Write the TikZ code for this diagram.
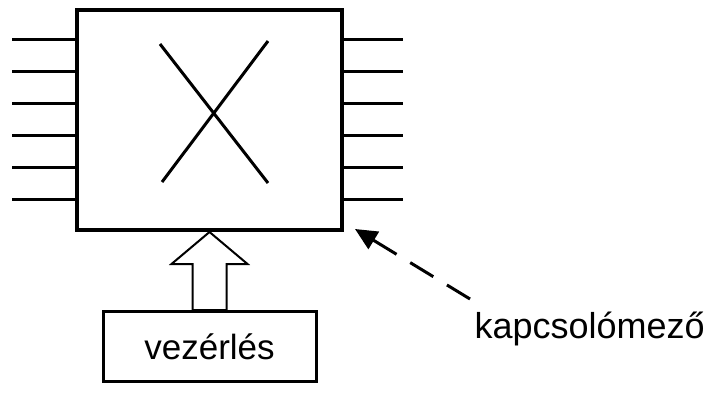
\documentclass[tikz,border=0pt]{standalone}
\usepackage{fontspec}
\setmainfont{Liberation Sans}
\usetikzlibrary{arrows.meta,positioning}

\begin{document}
\begin{tikzpicture}[x=1pt, y=-1pt, line width=3pt]
        \useasboundingbox (0,0) rectangle (707,392);

        \node[draw, line width=4pt, rectangle, minimum width=265pt, minimum height=220pt, inner sep=0pt](SW) at (209.5,120){};

        \coordinate (L1) at (12,39);
        \coordinate (L2) at (12,71);
        \coordinate (L3) at (12,103);
        \coordinate (L4) at (12,135);
        \coordinate (L5) at (12,167);
        \coordinate (L6) at (12,199);

        \draw (L1) -- (L1 -| SW.west);
        \draw (L2) -- (L2 -| SW.west);
        \draw (L3) -- (L3 -| SW.west);
        \draw (L4) -- (L4 -| SW.west);
        \draw (L5) -- (L5 -| SW.west);
        \draw (L6) -- (L6 -| SW.west);

        \coordinate (R1) at (403,39);
        \coordinate (R2) at (403,71);
        \coordinate (R3) at (403,103);
        \coordinate (R4) at (403,135);
        \coordinate (R5) at (403,167);
        \coordinate (R6) at (403,199);

        \draw (SW.east |- R1) -- (R1);
        \draw (SW.east |- R2) -- (R2);
        \draw (SW.east |- R3) -- (R3);
        \draw (SW.east |- R4) -- (R4);
        \draw (SW.east |- R5) -- (R5);
        \draw (SW.east |- R6) -- (R6);

        % cross inside the switch
        \draw (160,44) -- (268,183);
        \draw (162,182) -- (268,41);

        \node[draw, rectangle, minimum width=213pt, minimum height=70pt, below=78pt of SW, font=\fontsize{35}{42}\selectfont](CTRL){vez\'erl\'es};

        \draw[line width=2pt, fill=white] (CTRL.north) ++(-17,0) -- ++(0,-46) -- ++(-21,0) -- (SW.south)
            -- ++(38,32) -- ++(-21,0) -- ++(0,46) -- cycle;

        \node[anchor=base west, inner sep=0pt, font=\fontsize{36}{43}\selectfont](LBL) at (473,338){kapcsol\'omez\H{o}};
        \coordinate (TIP) at (355,229);

        \draw[dash pattern=on 27pt off 16pt, -{Triangle[length=22pt,width=20pt]}] ([shift={(-3,-11)}]LBL.north west) -- (TIP);
\end{tikzpicture}
\end{document}
